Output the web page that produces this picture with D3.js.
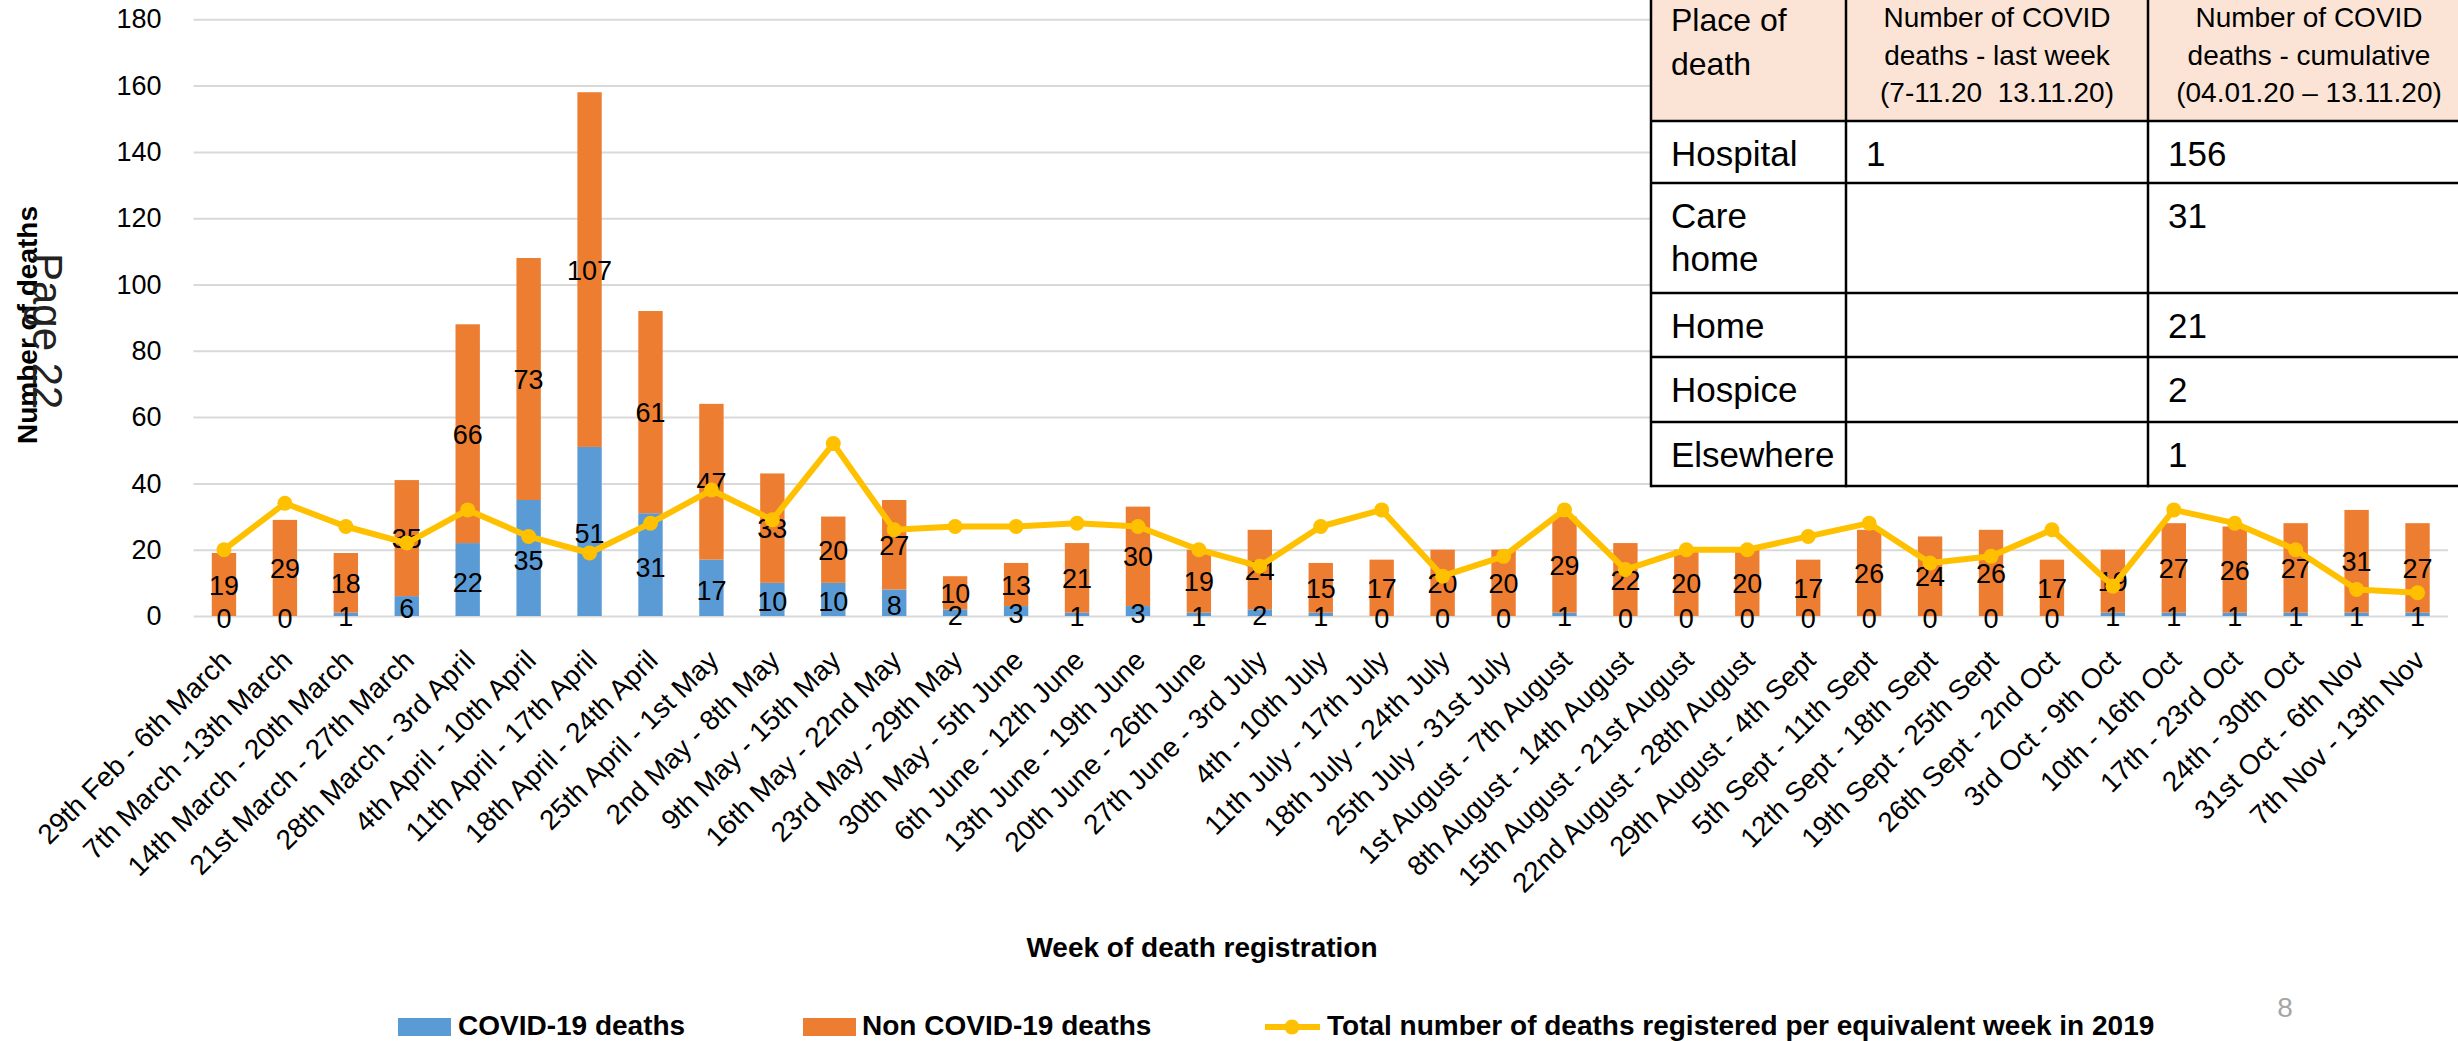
<!DOCTYPE html>
<html>
<head>
<meta charset="utf-8">
<script src="https://cdn.jsdelivr.net/npm/d3@7"></script>
<style>
  html, body { margin: 0; padding: 0; background: #fff; overflow: hidden; }
  svg { display: block; font-family: "Liberation Sans", Arial, sans-serif; }
</style>
</head>
<body>
<div id="chart"></div>
<script>
// weeks of death registration
const categories = [
  "29th Feb - 6th March", "7th March -13th March", "14th March - 20th March", "21st March - 27th March",
  "28th March - 3rd April", "4th April - 10th April", "11th April - 17th April", "18th April - 24th April",
  "25th April - 1st May", "2nd May - 8th May", "9th May - 15th May", "16th May - 22nd May",
  "23rd May - 29th May", "30th May - 5th June", "6th June - 12th June", "13th June - 19th June",
  "20th June - 26th June", "27th June - 3rd July", "4th - 10th July", "11th July - 17th July",
  "18th July - 24th July", "25th July - 31st July", "1st August - 7th August", "8th August - 14th August",
  "15th August - 21st August", "22nd August - 28th August", "29th August - 4th Sept", "5th Sept - 11th Sept",
  "12th Sept - 18th Sept", "19th Sept - 25th Sept", "26th Sept - 2nd Oct", "3rd Oct - 9th Oct",
  "10th - 16th Oct", "17th - 23rd Oct", "24th - 30th Oct", "31st Oct - 6th Nov", "7th Nov - 13th Nov"
];
const covidDeaths = [0, 0, 1, 6, 22, 35, 51, 31, 17, 10, 10, 8, 2, 3, 1, 3, 1, 2, 1, 0, 0, 0, 1, 0, 0, 0, 0, 0, 0, 0, 0, 1, 1, 1, 1, 1, 1];
const nonCovidDeaths = [19, 29, 18, 35, 66, 73, 107, 61, 47, 33, 20, 27, 10, 13, 21, 30, 19, 24, 15, 17, 20, 20, 29, 22, 20, 20, 17, 26, 24, 26, 17, 19, 27, 26, 27, 31, 27];
const deaths2019 = [20, 34, 27, 22, 32, 24, 19, 28, 38, 29, 52, 26, 27, 27, 28, 27, 20, 15, 27, 32, 12, 18, 32, 14, 20, 20, 24, 28, 16, 18, 26, 9, 32, 28, 20, 8, 7];
const yTicks = [0, 20, 40, 60, 80, 100, 120, 140, 160, 180];

const seriesNames = ["COVID-19 deaths", "Non COVID-19 deaths", "Total number of deaths registered per equivalent week in 2019"];

// place of death table
const tableHeaders = [
  ["Place of", "death"],
  ["Number of COVID", "deaths - last week", "(7-11.20  13.11.20)"],
  ["Number of COVID", "deaths - cumulative", "(04.01.20 \u2013 13.11.20)"]
];
const placesOfDeath = [["Hospital"], ["Care", "home"], ["Home"], ["Hospice"], ["Elsewhere"]];
const lastWeekDeaths = ["1", "", "", "", ""];
const cumulativeDeaths = ["156", "31", "21", "2", "1"];

const width = 2458, height = 1041;
const blue = "#5B9BD5", orange = "#ED7D31", gold = "#FFC000";

const svg = d3.select("#chart").append("svg")
  .attr("width", width)
  .attr("height", height);

const x = d3.scaleBand().domain(categories).range([193.5, 2448]).padding(0);
const y = d3.scaleLinear().domain([0, 180]).range([616, 19.3]);
const barW = x.bandwidth() * 0.4;
const cx = d => x(d) + x.bandwidth() / 2;

// gridlines + y tick labels
const yAxis = svg.append("g")
  .attr("transform", "translate(193.5,0)")
  .call(d3.axisLeft(y).tickValues(yTicks).tickSize(-(2448 - 193.5)).tickPadding(32));
yAxis.select(".domain").remove();
yAxis.selectAll(".tick line").attr("stroke", "#D9D9D9").attr("stroke-width", 2);
yAxis.selectAll(".tick text").attr("font-size", 27).attr("fill", "#000")
  .attr("font-family", "Liberation Sans, Arial, sans-serif");

// stacked bars
const rows = categories.map((c, i) => ({ cat: c, covid: covidDeaths[i], non: nonCovidDeaths[i], y2019: deaths2019[i] }));

svg.append("g").selectAll("rect")
  .data(rows).enter().append("rect")
  .attr("x", d => cx(d.cat) - barW / 2)
  .attr("width", barW)
  .attr("y", d => y(d.covid))
  .attr("height", d => y(0) - y(d.covid))
  .attr("fill", blue);

svg.append("g").selectAll("rect")
  .data(rows).enter().append("rect")
  .attr("x", d => cx(d.cat) - barW / 2)
  .attr("width", barW)
  .attr("y", d => y(d.covid + d.non))
  .attr("height", d => y(d.covid) - y(d.covid + d.non))
  .attr("fill", orange);

// bar value labels (centered in segments)
const labelG = svg.append("g").attr("font-size", 27).attr("text-anchor", "middle").attr("fill", "#000");
labelG.selectAll("text.cov")
  .data(rows).enter().append("text")
  .attr("class", "cov")
  .attr("x", d => cx(d.cat))
  .attr("y", d => y(d.covid / 2) + 12)
  .text(d => d.covid);
labelG.selectAll("text.non")
  .data(rows).enter().append("text")
  .attr("class", "non")
  .attr("x", d => cx(d.cat))
  .attr("y", d => y(d.covid + d.non / 2) + 10)
  .text(d => d.non);

// 2019 line
const line = d3.line().x(d => cx(d.cat)).y(d => y(d.y2019));
svg.append("path")
  .datum(rows)
  .attr("d", line)
  .attr("fill", "none")
  .attr("stroke", gold)
  .attr("stroke-width", 6)
  .attr("stroke-linejoin", "round");
svg.append("g").selectAll("circle")
  .data(rows).enter().append("circle")
  .attr("cx", d => cx(d.cat))
  .attr("cy", d => y(d.y2019))
  .attr("r", 7.5)
  .attr("fill", gold);

// x axis category labels
const xAxis = svg.append("g")
  .attr("transform", "translate(0,616)")
  .call(d3.axisBottom(x).tickSize(0).tickPadding(0));
xAxis.select(".domain").remove();
xAxis.selectAll(".tick text")
  .attr("font-size", 28)
  .attr("fill", "#000")
  .attr("font-family", "Liberation Sans, Arial, sans-serif")
  .attr("text-anchor", "end")
  .attr("dy", null)
  .attr("y", 0)
  .attr("transform", "translate(9,46) rotate(-45)");

// axis titles
svg.append("text")
  .attr("x", 1202).attr("y", 957)
  .attr("text-anchor", "middle")
  .attr("font-size", 28).attr("font-weight", "bold")
  .text("Week of death registration");

svg.append("text")
  .attr("transform", "translate(37,325) rotate(-90)")
  .attr("text-anchor", "middle")
  .attr("font-size", 28).attr("font-weight", "bold")
  .text("Number of deaths");

svg.append("text")
  .attr("transform", "translate(33,253) rotate(90)")
  .attr("font-size", 42)
  .attr("fill", "#222")
  .text("Page 22");

// legend
const legend = svg.append("g").attr("font-size", 28).attr("font-weight", "bold");
legend.append("rect").attr("x", 398).attr("y", 1018).attr("width", 53).attr("height", 18).attr("fill", blue);
legend.append("text").attr("x", 458).attr("y", 1035).text(seriesNames[0]);
legend.append("rect").attr("x", 803).attr("y", 1018).attr("width", 53).attr("height", 18).attr("fill", orange);
legend.append("text").attr("x", 862).attr("y", 1035).text(seriesNames[1]);
legend.append("line").attr("x1", 1265).attr("x2", 1320).attr("y1", 1027).attr("y2", 1027)
  .attr("stroke", gold).attr("stroke-width", 6);
legend.append("circle").attr("cx", 1292).attr("cy", 1027).attr("r", 7.5).attr("fill", gold);
legend.append("text").attr("x", 1327).attr("y", 1035).text(seriesNames[2]);

// slide number
svg.append("text")
  .attr("x", 2285).attr("y", 1017)
  .attr("text-anchor", "middle")
  .attr("font-size", 28)
  .attr("fill", "#A6A6A6")
  .text("8");

// table (place of death)
const colX = [1651, 1846, 2148, 2472];
const rowY = [-4, 121, 183, 293, 357, 422, 486];
const table = svg.append("g");
table.append("rect")
  .attr("x", colX[0]).attr("y", rowY[0])
  .attr("width", colX[3] - colX[0]).attr("height", rowY[1] - rowY[0])
  .attr("fill", "#FBE4D5");
table.append("rect")
  .attr("x", colX[0]).attr("y", rowY[1])
  .attr("width", colX[3] - colX[0]).attr("height", rowY[6] - rowY[1])
  .attr("fill", "#fff");

// header text
table.append("text")
  .attr("font-size", 32)
  .selectAll("tspan").data(tableHeaders[0]).enter().append("tspan")
  .attr("x", colX[0] + 20)
  .attr("y", (d, i) => 31 + i * 44)
  .text(d => d);
[1, 2].forEach(c => {
  table.append("text")
    .attr("font-size", 28)
    .attr("text-anchor", "middle")
    .attr("xml:space", "preserve")
    .style("white-space", "pre")
    .selectAll("tspan").data(tableHeaders[c]).enter().append("tspan")
    .attr("x", c === 1 ? (colX[1] + colX[2]) / 2 : 2309)
    .attr("y", (d, i) => 27 + i * 37.5)
    .text(d => d);
});

// body text
placesOfDeath.forEach((lines, r) => {
  const top = rowY[r + 1];
  table.append("text").attr("font-size", 35)
    .selectAll("tspan").data(lines).enter().append("tspan")
    .attr("x", colX[0] + 20)
    .attr("y", (d, i) => top + 45 + i * 43)
    .text(d => d);
  table.append("text").attr("font-size", 35)
    .attr("x", colX[1] + 20).attr("y", top + 45)
    .text(lastWeekDeaths[r]);
  table.append("text").attr("font-size", 35)
    .attr("x", colX[2] + 20).attr("y", top + 45)
    .text(cumulativeDeaths[r]);
});

// grid borders
table.selectAll("line.h")
  .data(rowY.slice(1)).enter().append("line")
  .attr("x1", colX[0]).attr("x2", colX[3])
  .attr("y1", d => d).attr("y2", d => d)
  .attr("stroke", "#000").attr("stroke-width", 2.5);
table.selectAll("line.v")
  .data(colX.slice(0, 3)).enter().append("line")
  .attr("x1", d => d).attr("x2", d => d)
  .attr("y1", rowY[0]).attr("y2", rowY[6] + 1.25)
  .attr("stroke", "#000").attr("stroke-width", 2.5);
</script>
</body>
</html>
